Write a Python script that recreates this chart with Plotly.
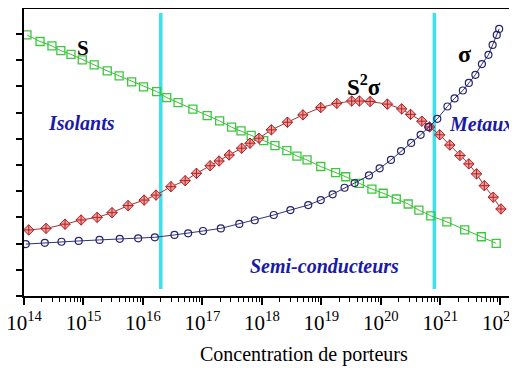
import plotly.graph_objects as go

# log10 of carrier concentration and values (arbitrary units)
s_logn = [14.05, 14.27, 14.47, 14.62, 14.79, 14.98, 15.18, 15.40, 15.60, 15.81,
          16.01, 16.23, 16.40, 16.59, 16.84, 17.08, 17.29, 17.49, 17.65, 17.82,
          18.03, 18.22, 18.42, 18.59, 18.76, 18.99, 19.24, 19.41, 19.64, 19.85,
          20.04, 20.26, 20.46, 20.64, 20.84, 21.11, 21.41, 21.69, 21.94]
s_val = [9.96, 9.71, 9.54, 9.36, 9.22, 9.01, 8.82, 8.59, 8.40, 8.17,
         7.98, 7.80, 7.57, 7.38, 7.13, 6.88, 6.68, 6.44, 6.30, 6.13,
         5.93, 5.74, 5.55, 5.34, 5.19, 4.94, 4.71, 4.55, 4.30, 4.08,
         3.92, 3.70, 3.51, 3.28, 3.06, 2.83, 2.52, 2.26, 2.01]

pf_logn = [14.08, 14.37, 14.69, 14.96, 15.23, 15.48, 15.75, 16.02, 16.22, 16.47,
           16.71, 16.90, 17.13, 17.28, 17.45, 17.66, 17.80, 17.95, 18.16, 18.43,
           18.69, 18.99, 19.26, 19.51, 19.64, 19.82, 20.11, 20.35, 20.50, 20.69,
           20.82, 20.99, 21.16, 21.33, 21.48, 21.61, 21.74, 21.89, 22.02]
pf_val = [2.52, 2.58, 2.74, 2.90, 3.00, 3.18, 3.45, 3.66, 3.85, 4.17,
          4.40, 4.68, 4.97, 5.15, 5.38, 5.64, 5.83, 6.02, 6.34, 6.63,
          6.91, 7.19, 7.35, 7.44, 7.44, 7.42, 7.32, 7.14, 6.93, 6.67,
          6.45, 6.15, 5.76, 5.36, 5.04, 4.66, 4.21, 3.77, 3.32]

sig_logn = [14.03, 14.35, 14.63, 14.92, 15.27, 15.61, 15.92, 16.20, 16.53, 16.76,
            17.01, 17.31, 17.62, 17.88, 18.20, 18.48, 18.78, 18.99, 19.19, 19.39,
            19.56, 19.80, 19.98, 20.17, 20.34, 20.51, 20.67, 20.80, 20.95, 21.12,
            21.24, 21.38, 21.48, 21.59, 21.70, 21.81, 21.88, 21.95, 21.99]
sig_val = [1.98, 2.03, 2.07, 2.10, 2.14, 2.18, 2.20, 2.24, 2.33, 2.39,
           2.48, 2.58, 2.75, 2.89, 3.09, 3.28, 3.47, 3.66, 3.88, 4.13,
           4.31, 4.60, 4.87, 5.19, 5.53, 5.84, 6.15, 6.45, 6.76, 7.23,
           7.54, 7.84, 8.13, 8.44, 8.85, 9.20, 9.58, 9.96, 10.19]

boundary_logn = [16.30, 20.90]
boundary_span = [0.27, 10.8]

tick_exps = [14, 15, 16, 17, 18, 19, 20, 21, 22]
tick_labels = ["10<sup>%d</sup>" % e for e in tick_exps]
x_title = "Concentration de porteurs"

fig = go.Figure()

for b in boundary_logn:
    fig.add_trace(go.Scatter(x=[10.0 ** b, 10.0 ** b], y=boundary_span, mode="lines",
                             line=dict(color="#3ee0ec", width=3.5),
                             showlegend=False, hoverinfo="skip"))

fig.add_trace(go.Scatter(x=[10.0 ** v for v in s_logn], y=s_val, mode="lines+markers",
                         line=dict(color="#3cbf3c", width=1),
                         marker=dict(symbol="square-open", size=8, color="#3cc83c",
                                     line=dict(width=1.3, color="#3cc83c")),
                         showlegend=False))
fig.add_trace(go.Scatter(x=[10.0 ** v for v in pf_logn], y=pf_val, mode="lines+markers",
                         line=dict(color="#b03030", width=1),
                         marker=dict(symbol="diamond-cross", size=8, color="#f0a0a0",
                                     line=dict(width=1, color="#b02020")),
                         showlegend=False))
fig.add_trace(go.Scatter(x=[10.0 ** v for v in sig_logn], y=sig_val, mode="lines+markers",
                         line=dict(color="#303080", width=1),
                         marker=dict(symbol="circle-open", size=7, color="#24246e",
                                     line=dict(width=1.2, color="#24246e")),
                         showlegend=False))

serif = "Liberation Serif"
blue = "#1a1aa8"
ann = [
    dict(x=15.0, y=9.45, text="<b>S</b>", font=dict(family=serif, size=21, color="black")),
    dict(x=14.97, y=6.6, text="<b><i>Isolants</i></b>", font=dict(family=serif, size=20, color=blue)),
    dict(x=19.72, y=8.05, text="<b>S<sup>2</sup>σ</b>", font=dict(family=serif, size=23, color="black")),
    dict(x=21.4, y=9.25, text="<b>σ</b>", font=dict(family=serif, size=24, color="black")),
    dict(x=21.68, y=6.55, text="<b><i>Metaux</i></b>", font=dict(family=serif, size=20, color=blue)),
    dict(x=19.05, y=1.15, text="<b><i>Semi-conducteurs</i></b>", font=dict(family=serif, size=20, color=blue)),
]
for a in ann:
    fig.add_annotation(x=a["x"], y=a["y"], text=a["text"], font=a["font"],
                       showarrow=False, xref="x", yref="y")

fig.add_annotation(x=0.568, y=0, xref="paper", yref="paper", yshift=-58, yanchor="middle",
                   text=x_title, showarrow=False,
                   font=dict(family=serif, size=20, color="black"))

minor_vals = [float(d) * 10.0 ** e for e in tick_exps[:-1] for d in range(2, 10)]

fig.update_xaxes(type="log", range=[14, 22.29], automargin=False,
                 tickmode="array", tickvals=[10.0 ** e for e in tick_exps], ticktext=tick_labels,
                 ticklabeloverflow="allow",
                 ticks="outside", ticklen=7, tickwidth=2, tickcolor="black",
                 minor=dict(tickmode="array", tickvals=minor_vals, ticks="outside",
                            ticklen=4, tickwidth=1, tickcolor="black", showgrid=False),
                 showline=True, linewidth=2, linecolor="black", mirror=True,
                 showgrid=False, zeroline=False,
                 tickfont=dict(family=serif, size=21, color="black"))
fig.update_yaxes(range=[0, 10.95], tickmode="linear", tick0=0, dtick=1, automargin=False,
                 ticks="outside", ticklen=6, tickwidth=2, tickcolor="black",
                 showticklabels=False, showline=True, linewidth=2, linecolor="black",
                 showgrid=False, zeroline=False)

# the page body adds an 8px margin, so the figure is 8px smaller than the window
fig.update_layout(width=509, height=360, margin=dict(l=16, r=0, t=1, b=72),
                  plot_bgcolor="white", paper_bgcolor="white", showlegend=False)

fig.write_html("out.html")
